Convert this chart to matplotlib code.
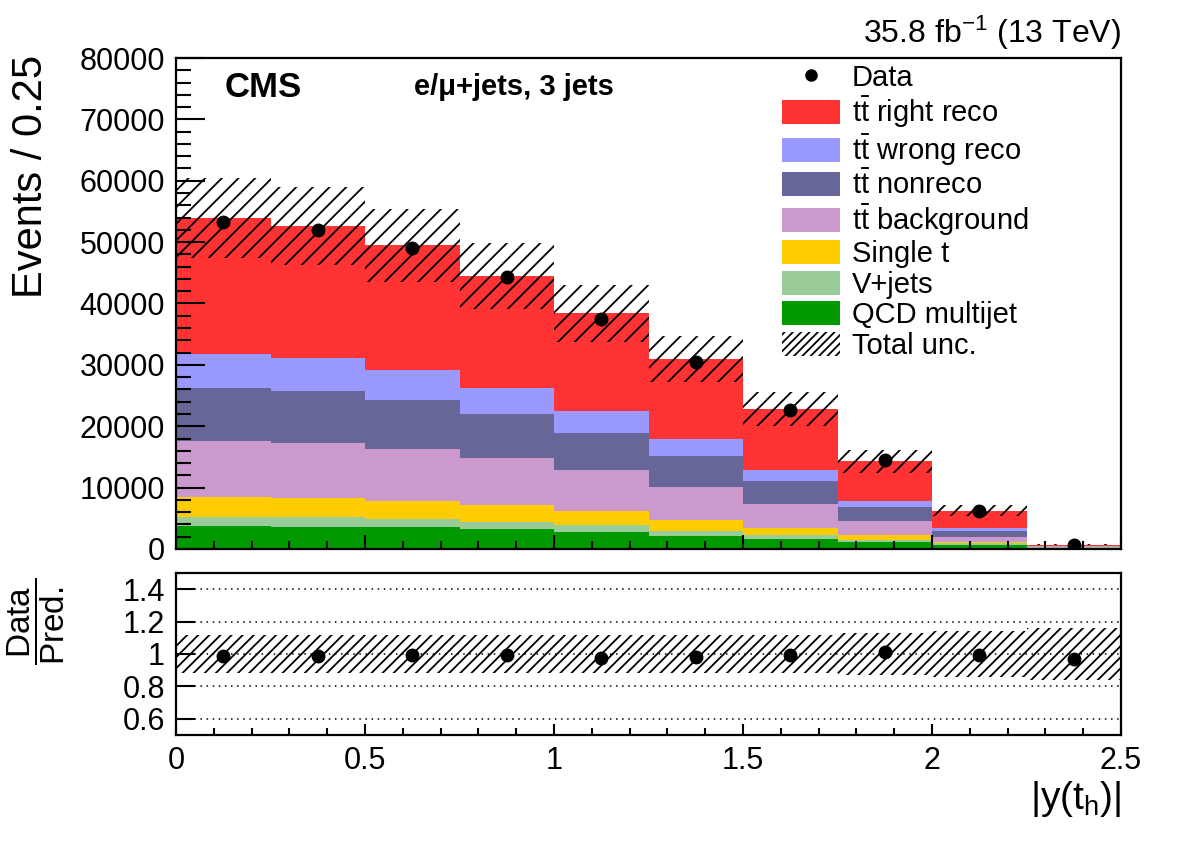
import numpy as np
import matplotlib
matplotlib.use("Agg")
import matplotlib.pyplot as plt
import matplotlib.patches as mpatches
from matplotlib.lines import Line2D
from matplotlib.ticker import MultipleLocator

plt.rcParams["font.family"] = ["Liberation Sans", "DejaVu Sans"]
plt.rcParams["mathtext.fontset"] = "custom"
plt.rcParams["mathtext.rm"] = "Liberation Sans"
plt.rcParams["mathtext.it"] = "Liberation Sans:italic"
plt.rcParams["mathtext.bf"] = "Liberation Sans:bold"
plt.rcParams["hatch.linewidth"] = 1.3

# bins of |y(t_h)|
bin_edges = [0.0, 0.25, 0.5, 0.75, 1.0, 1.25, 1.5, 1.75, 2.0, 2.25, 2.5]

# stacked components (bottom to top)
qcd = [3800, 3640, 3530, 3200, 2780, 2120, 1630, 1090, 650, 200]
vjets = [1470, 1510, 1360, 1250, 1130, 860, 650, 380, 280, 60]
single_t = [3150, 3100, 2930, 2660, 2280, 1740, 1190, 760, 260, 70]
tt_bkg = [9170, 8960, 8520, 7710, 6680, 5430, 3860, 2280, 810, 90]
tt_nonreco = [8630, 8570, 7930, 7170, 6110, 5000, 3690, 2280, 980, 80]
tt_wrong = [5540, 5280, 4880, 4230, 3520, 2710, 1850, 1080, 390, 40]
tt_right = [22200, 21540, 20310, 18290, 15880, 13080, 9930, 6410, 2870, 160]

data = [53200, 51900, 49000, 44300, 37500, 30400, 22650, 14450, 6200, 680]
rel_unc = [0.12, 0.12, 0.12, 0.12, 0.12, 0.12, 0.12, 0.13, 0.14, 0.16]

x_ticks = [0, 0.5, 1, 1.5, 2, 2.5]
x_ticklabels = ["0", "0.5", "1", "1.5", "2", "2.5"]
r_ticks = [0.6, 0.8, 1.0, 1.2, 1.4]
r_ticklabels = ["0.6", "0.8", "1", "1.2", "1.4"]

components = [
    (qcd, "#009900", "QCD multijet"),
    (vjets, "#99cc99", "V+jets"),
    (single_t, "#ffcc00", "Single t"),
    (tt_bkg, "#cc99cc", r"$\mathrm{t\bar{t}}$ background"),
    (tt_nonreco, "#666699", r"$\mathrm{t\bar{t}}$ nonreco"),
    (tt_wrong, "#9999ff", r"$\mathrm{t\bar{t}}$ wrong reco"),
    (tt_right, "#ff3333", r"$\mathrm{t\bar{t}}$ right reco"),
]

edges = np.array(bin_edges)
lefts = edges[:-1]
widths = np.diff(edges)
centers = lefts + widths / 2

fig = plt.figure(figsize=(11.82, 8.48), dpi=100)
ax = fig.add_axes([0.1489, 0.3526, 0.7995, 0.579])
rax = fig.add_axes([0.1489, 0.1333, 0.7995, 0.191])

# --- main panel: stack ---
bottom = np.zeros(len(lefts))
for vals, color, label in components:
    ax.bar(lefts, vals, widths, bottom=bottom, align="edge", color=color,
           linewidth=0, zorder=1)
    bottom += np.array(vals)
total = bottom

unc = total * np.array(rel_unc)
ax.bar(lefts, 2 * unc, widths, bottom=total - unc, align="edge", fill=False,
       hatch="//", edgecolor="black", linewidth=0, zorder=2)

data = np.array(data, dtype=float)
ax.errorbar(centers, data, yerr=np.sqrt(data), fmt="o", color="black",
            markersize=9, elinewidth=1.5, capsize=0, zorder=4)

ax.set_xlim(0, 2.5)
ax.set_ylim(0, 80000)
ax.set_xticks(x_ticks)
ax.xaxis.set_minor_locator(MultipleLocator(0.1))
ax.yaxis.set_major_locator(MultipleLocator(10000))
ax.yaxis.set_minor_locator(MultipleLocator(2000))
ax.tick_params(axis="both", which="both", direction="in", top=False, right=False)
ax.tick_params(axis="y", which="major", length=21, width=1.5, labelsize=22, pad=8)
ax.tick_params(axis="y", which="minor", length=11, width=1.5)
ax.tick_params(axis="x", which="major", length=10, width=1.5, labelbottom=False)
ax.tick_params(axis="x", which="minor", length=6, width=1.5)
for s in ax.spines.values():
    s.set_linewidth(1.6)
    s.set_zorder(5)

fig.text(0.026, 1 - 55 / 848, "Events / 0.25", rotation=90, ha="center",
         va="top", fontsize=30)

ax.text(0.051, 0.94, "CMS", transform=ax.transAxes, fontsize=25,
        fontweight="bold", ha="left", va="center")
ax.text(0.252, 0.94, "e/μ+jets, 3 jets", transform=ax.transAxes, fontsize=21,
        fontweight="bold", ha="left", va="center")
ax.text(1.0, 1.012, r"35.8 fb$^{-1}$ (13 TeV)", transform=ax.transAxes,
        fontsize=23, ha="right", va="bottom")

handles = [Line2D([], [], marker="o", color="black", linestyle="none", markersize=8)]
labels = ["Data"]
for vals, color, label in components[::-1]:
    handles.append(mpatches.Patch(facecolor=color, edgecolor=color, linewidth=0))
    labels.append(label)
handles.append(mpatches.Patch(facecolor="white", edgecolor="black", hatch="////",
                              linewidth=0))
labels.append("Total unc.")
ax.legend(handles, labels, loc="upper left", bbox_to_anchor=(0.635, 1.0),
          frameon=False, fontsize=21, handlelength=2.0, handleheight=0.9,
          handletextpad=0.4, labelspacing=0.08, borderpad=0.1, borderaxespad=0.1)

# --- ratio panel ---
ratio = data / total
ratio_err = np.sqrt(data) / total
rel = np.array(rel_unc)
rax.bar(lefts, 2 * rel, widths, bottom=1 - rel, align="edge", fill=False,
        hatch="///", edgecolor="black", linewidth=0, zorder=2)
for yv in r_ticks:
    rax.axhline(yv, color="black", linestyle=(0, (1, 3)), linewidth=1.1, zorder=1)
rax.errorbar(centers, ratio, yerr=ratio_err, fmt="o", color="black",
             markersize=9, elinewidth=2.5, capsize=0, zorder=4)

rax.set_xlim(0, 2.5)
rax.set_ylim(0.5, 1.5)
rax.set_yticks(r_ticks)
rax.set_yticklabels(r_ticklabels)
rax.set_xticks(x_ticks)
rax.set_xticklabels(x_ticklabels)
rax.xaxis.set_minor_locator(MultipleLocator(0.1))
rax.tick_params(axis="both", which="both", direction="in", top=False, right=False)
rax.tick_params(axis="y", which="major", length=14, width=1.5, labelsize=22, pad=8)
rax.tick_params(axis="x", which="major", length=8, width=1.5, labelsize=22, pad=8)
rax.tick_params(axis="x", which="minor", length=5, width=1.5)
for s in rax.spines.values():
    s.set_linewidth(1.6)
    s.set_zorder(5)

rax.set_xlabel(r"$|\mathrm{y(t_{h})}|$", fontsize=28, loc="right", labelpad=2)
fig.text(0.031, 1 - 621 / 848, r"$\dfrac{\mathrm{Data}}{\mathrm{Pred.}}$",
         rotation=90, ha="center", va="center", fontsize=24)

fig.savefig("out.png", dpi=100)
